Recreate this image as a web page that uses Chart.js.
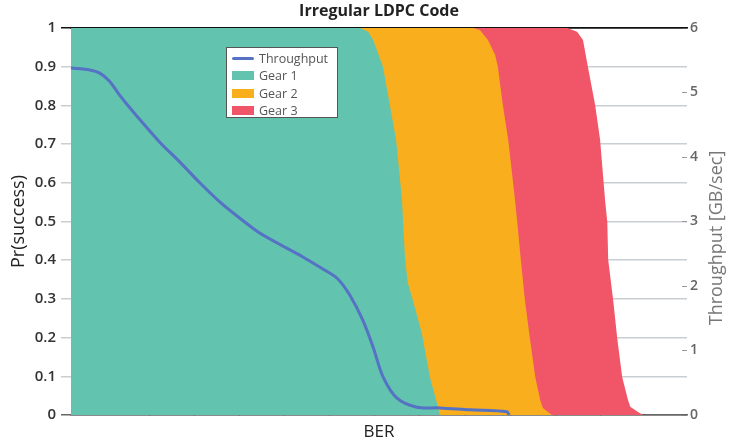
<!DOCTYPE html>
<html>
<head>
<meta charset="utf-8">
<script src="https://cdn.jsdelivr.net/npm/chart.js@4.4.1/dist/chart.umd.min.js"></script>
<style>
  body { margin: 0; background: #fff; }
  #wrap { position: relative; width: 729px; height: 444px; }
  #legend {
    position: absolute; left: 226px; top: 47px; width: 112px; height: 71px;
    background: #fff; border: 1px solid #555; font-family: "Open Sans", sans-serif;
    font-size: 12.5px; color: #555; box-sizing: border-box; padding-top: 2px;
  }
  #legend div { height: 17.3px; line-height: 17.3px; display: flex; align-items: center; }
  #legend span.sw { display: inline-block; width: 22px; height: 9px; margin: 0 5px 0 5px; }
  #legend span.ln { display: inline-block; width: 22px; height: 3px; border-radius: 2px; margin: 0 5px 0 5px; }
</style>
</head>
<body>
<div id="wrap">
  <canvas id="chart" width="729" height="444"></canvas>
  <div id="legend">
    <div><span class="ln" style="background:#5672c4"></span>Throughput</div>
    <div><span class="sw" style="background:#62c3ae"></span>Gear 1</div>
    <div><span class="sw" style="background:#f9ae1d"></span>Gear 2</div>
    <div><span class="sw" style="background:#f05668"></span>Gear 3</div>
  </div>
</div>
<script>
// valores (eixo x em unidades de marca, sem rótulos)
const throughputX = [0.25, 0.67, 0.89, 1.11, 1.33, 1.56, 1.84, 2.22, 2.67, 3.11, 3.56, 4.0, 4.44, 4.82, 5.4, 5.78, 6.16, 6.44, 6.73, 6.96, 7.18, 7.49, 7.93, 8.44, 9.11, 9.93, 9.98];
const throughputY = [5.38, 5.35, 5.30, 5.17, 4.96, 4.76, 4.53, 4.23, 3.92, 3.60, 3.30, 3.05, 2.82, 2.67, 2.45, 2.29, 2.12, 1.86, 1.47, 1.05, 0.59, 0.26, 0.12, 0.11, 0.08, 0.05, 0];

const gear1X = [0.25, 6.67, 6.85, 6.96, 7.18, 7.33, 7.47, 7.6, 7.67, 7.73, 7.84, 8.04, 8.22, 8.36, 8.44];
const gear1Y = [1, 1, 0.99, 0.969, 0.899, 0.801, 0.711, 0.556, 0.401, 0.341, 0.297, 0.212, 0.098, 0.039, 0];

const gear2X = [0.25, 9.18, 9.33, 9.51, 9.67, 9.73, 9.84, 9.96, 10.11, 10.16, 10.24, 10.33, 10.44, 10.56, 10.67, 10.73, 10.93];
const gear2Y = [1, 1, 0.995, 0.969, 0.93, 0.899, 0.801, 0.711, 0.556, 0.499, 0.401, 0.297, 0.199, 0.098, 0.039, 0.018, 0];

const gear3X = [0.25, 11.27, 11.49, 11.62, 11.73, 11.89, 12.0, 12.11, 12.16, 12.18, 12.29, 12.38, 12.49, 12.62, 12.67, 12.84, 12.96];
const gear3Y = [1, 1, 0.99, 0.969, 0.899, 0.801, 0.711, 0.556, 0.499, 0.401, 0.297, 0.199, 0.098, 0.039, 0.021, 0.008, 0];

const pares = (xs, ys) => xs.map((x, i) => ({ x: x, y: ys[i] }));

const tituloDireita = {
  id: 'tituloDireita',
  afterDraw(chart) {
    const ctx = chart.ctx;
    ctx.save();
    ctx.translate(717, 238);
    ctx.rotate(-Math.PI / 2);
    ctx.font = '18px "Open Sans", sans-serif';
    ctx.fillStyle = '#777';
    ctx.textAlign = 'center';
    ctx.textBaseline = 'middle';
    ctx.fillText('Throughput [GB/sec]', 0, 0);
    ctx.restore();
  }
};

const area = (label, xs, ys, cor) => ({
  label: label,
  data: pares(xs, ys),
  yAxisID: 'y',
  backgroundColor: cor,
  borderColor: cor,
  borderWidth: 0,
  pointRadius: 0,
  fill: 'origin',
  tension: 0
});

new Chart(document.getElementById('chart'), {
  type: 'line',
  data: {
    datasets: [
      {
        label: 'Throughput',
        data: pares(throughputX, throughputY),
        yAxisID: 'y2',
        borderColor: '#5672c4',
        borderWidth: 3,
        pointRadius: 0,
        fill: false,
        tension: 0.3
      },
      area('Gear 1', gear1X, gear1Y, '#62c3ae'),
      area('Gear 2', gear2X, gear2Y, '#f9ae1d'),
      area('Gear 3', gear3X, gear3Y, '#f05668')
    ]
  },
  options: {
    responsive: false,
    animation: false,
    layout: { padding: 0 },
    plugins: {
      legend: { display: false },
      tooltip: { enabled: false }
    },
    scales: {
      x: {
        type: 'linear',
        position: 'bottom',
        min: 0.25,
        max: 13.93,
        afterBuildTicks: s => { s.ticks = s.ticks.filter(t => Number.isInteger(t.value)); },
        afterFit: s => { s.height = 29; },
        ticks: { display: false, stepSize: 1 },
        grid: { drawOnChartArea: false, tickLength: -6, tickColor: '#555', tickWidth: 1.5 },
        border: { color: '#666', width: 1.5 },
        title: { display: true, text: 'BER', color: '#222', font: { family: 'Open Sans', size: 17 }, padding: { top: 0, bottom: 2 } }
      },
      x2: {
        type: 'linear',
        position: 'top',
        min: 0.25,
        max: 13.93,
        afterFit: s => { s.height = 28; },
        ticks: { display: false },
        grid: { drawOnChartArea: false, drawTicks: false },
        border: { color: '#111', width: 1.5 },
        title: { display: true, text: 'Irregular LDPC Code', color: '#222', font: { family: 'Open Sans', size: 16, weight: 'bold' }, padding: { top: 2, bottom: 6 } }
      },
      y: {
        position: 'left',
        min: 0,
        max: 1,
        z: 1,
        afterFit: s => { s.width = 71; },
        ticks: {
          stepSize: 0.1, color: '#333', padding: 5,
          font: { family: 'Open Sans', size: 15, weight: '600' },
          callback: v => String(Number(v.toFixed(1)))
        },
        grid: {
          tickLength: 10,
          lineWidth: 1.5,
          color: c => c.tick.value === 1 ? '#111' : (c.tick.value === 0 ? '#666' : '#c9ced3')
        },
        border: { display: false },
        title: { display: true, text: 'Pr(success)', color: '#222', font: { family: 'Open Sans', size: 18 }, padding: { top: 8, bottom: 0 } }
      },
      y2: {
        position: 'right',
        min: 0,
        max: 6,
        afterFit: s => { s.width = 42; },
        ticks: { stepSize: 1, color: '#666', padding: 8, font: { family: 'Open Sans', size: 14, weight: '600' } },
        grid: { drawOnChartArea: false, tickLength: -5, tickColor: '#999', tickWidth: 1 },
        border: { display: false }
      }
    }
  },
  plugins: [tituloDireita]
});
</script>
</body>
</html>
